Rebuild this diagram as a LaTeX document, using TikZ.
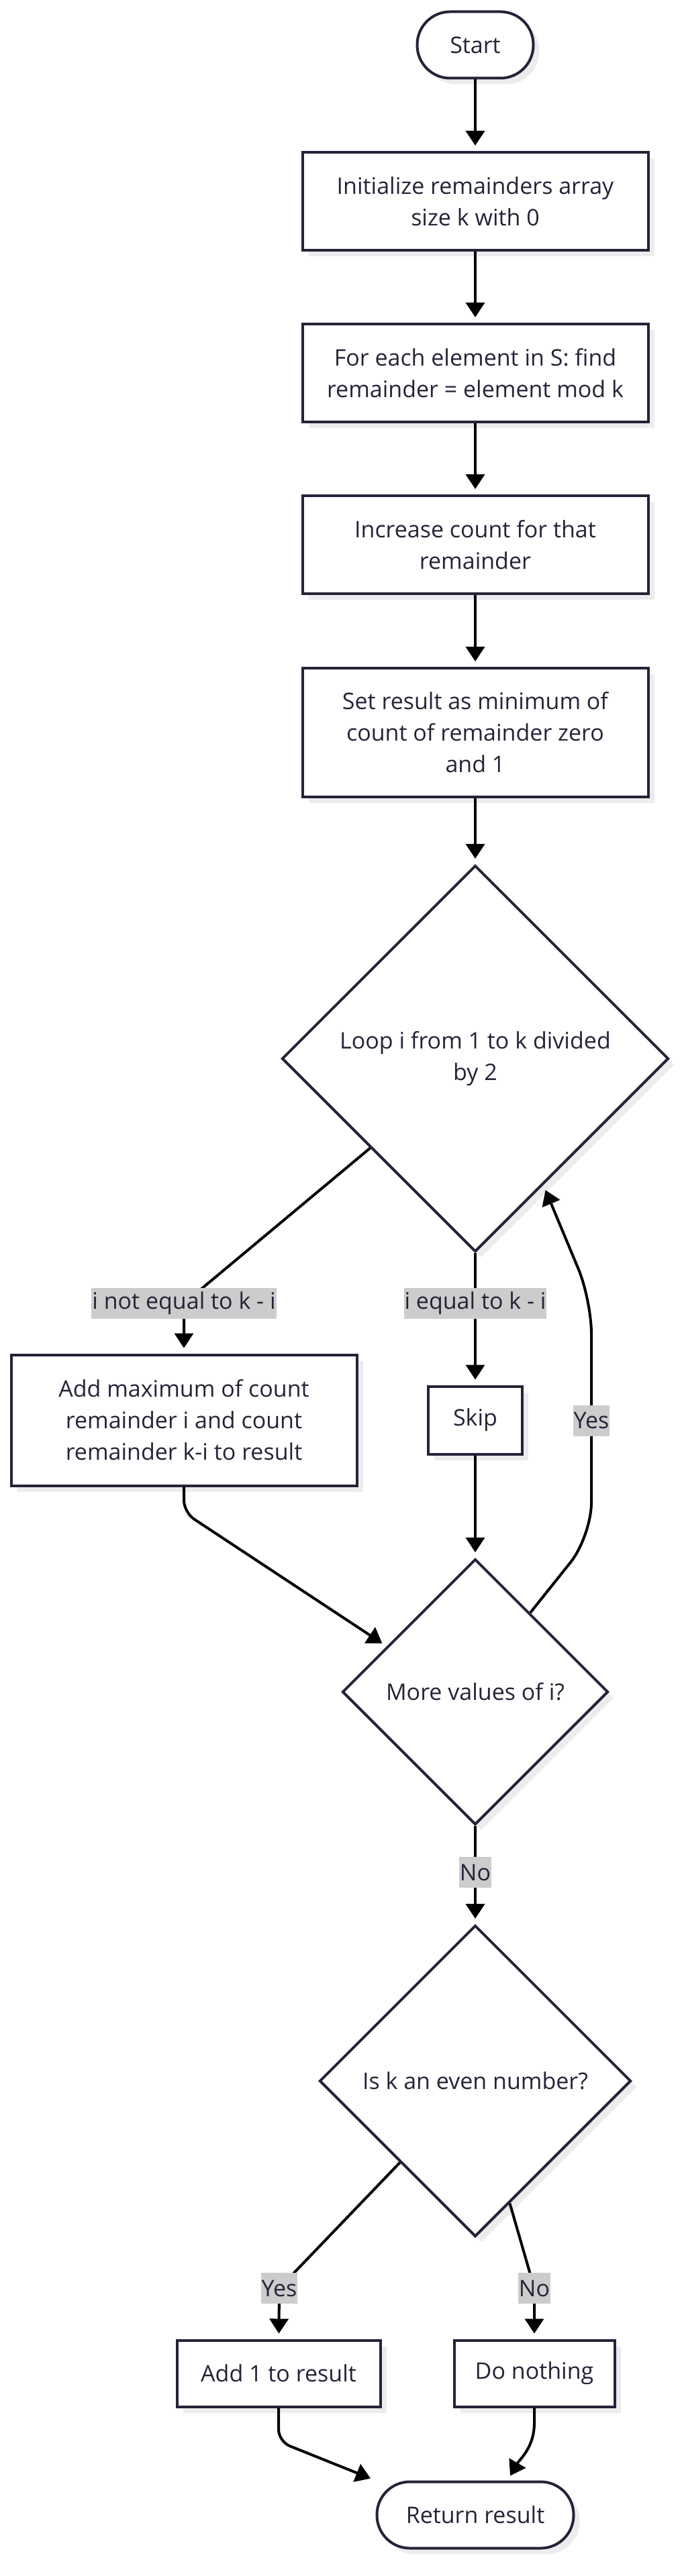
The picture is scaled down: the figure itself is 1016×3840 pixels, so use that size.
\documentclass[tikz,border=0pt]{standalone}
\usepackage{fontspec}
\setmainfont{Open Sans}
\usetikzlibrary{shapes.geometric,arrows.meta,shadows,calc}
\definecolor{ink}{RGB}{36,36,56}
\definecolor{shade}{RGB}{236,236,238}
\tikzstyle{every node}=[font=\fontsize{34}{47}\selectfont, text=ink]
\tikzstyle{base}=[draw=ink, line width=4pt, fill=white, inner sep=0pt, align=center,
    drop shadow={shadow xshift=9pt, shadow yshift=-9pt, fill=shade, opacity=1}]
\tikzstyle{procbox}=[base, rectangle, minimum width=515pt, minimum height=146pt]
\tikzstyle{terminal}=[base, rectangle, rounded corners=49pt, minimum height=99pt]
\tikzstyle{decision}=[base, diamond, aspect=1]
\tikzstyle{edgelabel}=[fill=black!20, inner xsep=1pt, inner ysep=0pt, minimum height=46pt]
\tikzstyle{flow}=[line width=4pt, -{Triangle[length=22pt,width=28pt]}, shorten >=8pt]

\begin{document}
\begin{tikzpicture}[x=1pt, y=1pt]
    \useasboundingbox (0,0) rectangle (1016,-3840);
    % main column
    \node[terminal, minimum width=173pt] (start) at (708,-67) {Start};
    \node[procbox] (init) at (708,-300) {Initialize remainders array\\size k with 0};
    \node[procbox] (each) at (708,-556) {For each element in S: find\\remainder = element mod k};
    \node[procbox] (count) at (708,-812) {Increase count for that\\remainder};
    \node[procbox, minimum height=192pt] (setres) at (708,-1092) {Set result as minimum of\\count of remainder zero\\and 1};
    \node[decision, minimum width=576pt, minimum height=576pt] (loop) at (708,-1578) {Loop i from 1 to k divided\\by 2};
    \node[procbox, minimum height=195pt] (addmax) at (274,-2117) {Add maximum of count\\remainder i and count\\remainder k-i to result};
    \node[procbox, minimum width=140pt, minimum height=101pt] (skip) at (708,-2117) {Skip};
    \node[decision, minimum width=396pt, minimum height=396pt] (more) at (708,-2522) {More values of i?};
    \node[decision, minimum width=464pt, minimum height=464pt] (even) at (708,-3102) {Is k an even number?};
    \node[procbox, minimum width=303pt, minimum height=99pt] (addone) at (415,-3538) {Add 1 to result};
    \node[procbox, minimum width=239pt, minimum height=99pt] (nothing) at (796,-3538) {Do nothing};
    \node[terminal, minimum width=293pt] (ret) at (708,-3749) {Return result};

    % where the edge labels sit
    \coordinate (neq) at (274,-1943);
    \coordinate (eq) at (708,-1943);
    \coordinate (again) at (881,-2118);
    \coordinate (done) at (708,-2791);
    \coordinate (evyes) at (416,-3411);
    \coordinate (evno) at (796,-3411);

    \draw[flow] (start) -- (init);
    \draw[flow] (init) -- (each);
    \draw[flow] (each) -- (count);
    \draw[flow] (count) -- (setres);
    \draw[flow] (setres) -- (loop);
    \draw[flow] ($(loop.west)!0.46!(loop.south)$) -- (neq) -- (addmax);
    \draw[flow] (loop) -- (eq) -- (skip);
    \draw[flow] (skip) -- (more);
    \draw[flow, rounded corners=18pt] (addmax.south) -- ++(0,-38) -- ($(more.west)!0.34!(more.north)$);
    \draw[flow, rounded corners=50pt] ($(more.north)!0.41!(more.east)$) -- ([yshift=-172pt]again) -- ([yshift=180pt]again) -- ($(loop.south)!0.35!(loop.east)$);
    \draw[flow] (more) -- (done) -- (even);
    \draw[flow] ($(even.west)!0.52!(even.south)$) -- (evyes) -- (addone);
    \draw[flow] ($(even.south)!0.22!(even.east)$) -- (evno) -- (nothing);
    \draw[flow, rounded corners=18pt] (addone.south) -- ++(0,-50) -- (ret.north west);
    \draw[flow] (nothing.south) -- ++(0,-22) to[out=-90,in=60] ([xshift=48pt]ret.north);

    \node[edgelabel] (lneq) at (neq) {i not equal to k - i};
    \node[edgelabel] (leq) at (eq) {i equal to k - i};
    \node[edgelabel] (lagain) at (again) {Yes};
    \node[edgelabel] (ldone) at (done) {No};
    \node[edgelabel] (levyes) at (evyes) {Yes};
    \node[edgelabel] (levno) at (evno) {No};
\end{tikzpicture}
\end{document}
